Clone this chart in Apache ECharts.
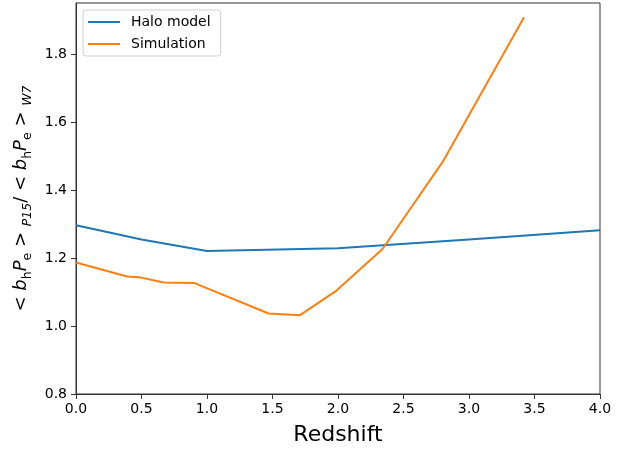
<!DOCTYPE html>
<html>
<head>
<meta charset="utf-8">
<script src="https://cdn.jsdelivr.net/npm/echarts@6/dist/echarts.min.js"></script>
<style>
  html, body { margin: 0; padding: 0; background: #fff; }
  #chart { width: 635px; height: 451px; }
</style>
</head>
<body>
<div id="chart"></div>
<script>
// Halo model prediction of the bias-weighted pressure ratio
const haloZ = [0.0, 0.5, 1.0, 2.0, 3.0, 4.0];
const haloRatio = [1.297, 1.255, 1.221, 1.229, 1.255, 1.282];

// Ratio measured from the simulation snapshots
const simZ = [0.0, 0.39, 0.48, 0.67, 0.9, 1.47, 1.71, 1.98, 2.34, 2.8, 3.42];
const simRatio = [1.187, 1.146, 1.144, 1.128, 1.127, 1.037, 1.032, 1.102, 1.227, 1.484, 1.909];

const xTicks = [0, 0.5, 1.0, 1.5, 2.0, 2.5, 3.0, 3.5, 4.0];
const yTicks = [0.8, 1.0, 1.2, 1.4, 1.6, 1.8];

const pairs = (xs, ys) => xs.map((x, i) => [x, ys[i]]);
const FONT = 'DejaVu Sans';

const chart = echarts.init(document.getElementById('chart'), null, { renderer: 'canvas' });
chart.setOption({
  animation: false,
  textStyle: { fontFamily: FONT },
  grid: {
    left: 76, right: 35, top: 3, bottom: 57,
    show: true, borderColor: '#333', borderWidth: 1, backgroundColor: 'transparent'
  },
  legend: {
    orient: 'vertical',
    left: 83, top: 10,
    padding: [4, 10, 4, 5],
    itemGap: 6,
    icon: 'rect',
    itemWidth: 32, itemHeight: 2,
    borderColor: '#d0d0d0', borderWidth: 1, borderRadius: 3,
    backgroundColor: 'rgba(255,255,255,0.8)',
    textStyle: { fontFamily: FONT, fontSize: 14, color: '#000', lineHeight: 16, padding: [0, 0, 0, 6] },
    data: ['Halo model', 'Simulation']
  },
  xAxis: {
    type: 'value',
    min: 0, max: 4, interval: 0.5,
    name: 'Redshift',
    nameLocation: 'middle',
    nameGap: 30,
    nameTextStyle: { fontFamily: FONT, fontSize: 22, color: '#000' },
    axisLine: { show: true, lineStyle: { color: '#333', width: 1 } },
    axisTick: { show: true, inside: false, length: 5, lineStyle: { color: '#333' } },
    axisLabel: {
      color: '#000', fontSize: 14, margin: 8, fontFamily: FONT,
      formatter: v => xTicks.some(t => Math.abs(t - v) < 1e-6) ? v.toFixed(1) : ''
    },
    splitLine: { show: false }
  },
  yAxis: {
    type: 'value',
    min: 0.8, max: 1.951, interval: 0.2,
    name: '{t|< }{i|b}{s|h}{i|P}{s|e}{t| > }{si|P15}{t|/ < }{i|b}{s|h}{i|P}{s|e}{t| > }{si|W7}',
    nameLocation: 'middle',
    nameRotate: 90,
    nameGap: 39,
    nameTextStyle: {
      fontFamily: FONT, fontSize: 18, color: '#000',
      rich: {
        t: { fontFamily: FONT, fontSize: 18, color: '#000', lineHeight: 25, verticalAlign: 'middle' },
        i: { fontFamily: FONT, fontSize: 18, fontStyle: 'italic', color: '#000', lineHeight: 25, verticalAlign: 'middle' },
        s: { fontFamily: FONT, fontSize: 12.5, color: '#000', lineHeight: 14, verticalAlign: 'bottom' },
        si: { fontFamily: FONT, fontSize: 12.5, fontStyle: 'italic', color: '#000', lineHeight: 14, verticalAlign: 'bottom' }
      }
    },
    axisLine: { show: true, lineStyle: { color: '#333', width: 1 } },
    axisTick: { show: true, inside: false, length: 5, lineStyle: { color: '#333' } },
    axisLabel: {
      color: '#000', fontSize: 14, margin: 9, fontFamily: FONT,
      showMaxLabel: false,
      formatter: v => yTicks.some(t => Math.abs(t - v) < 1e-6) ? v.toFixed(1) : ''
    },
    splitLine: { show: false }
  },
  series: [
    {
      name: 'Halo model',
      type: 'line',
      data: pairs(haloZ, haloRatio),
      symbol: 'none',
      color: '#1f77b4',
      lineStyle: { color: '#1f77b4', width: 2 }
    },
    {
      name: 'Simulation',
      type: 'line',
      data: pairs(simZ, simRatio),
      symbol: 'none',
      color: '#ff7f0e',
      lineStyle: { color: '#ff7f0e', width: 2 }
    }
  ]
});
</script>
</body>
</html>
